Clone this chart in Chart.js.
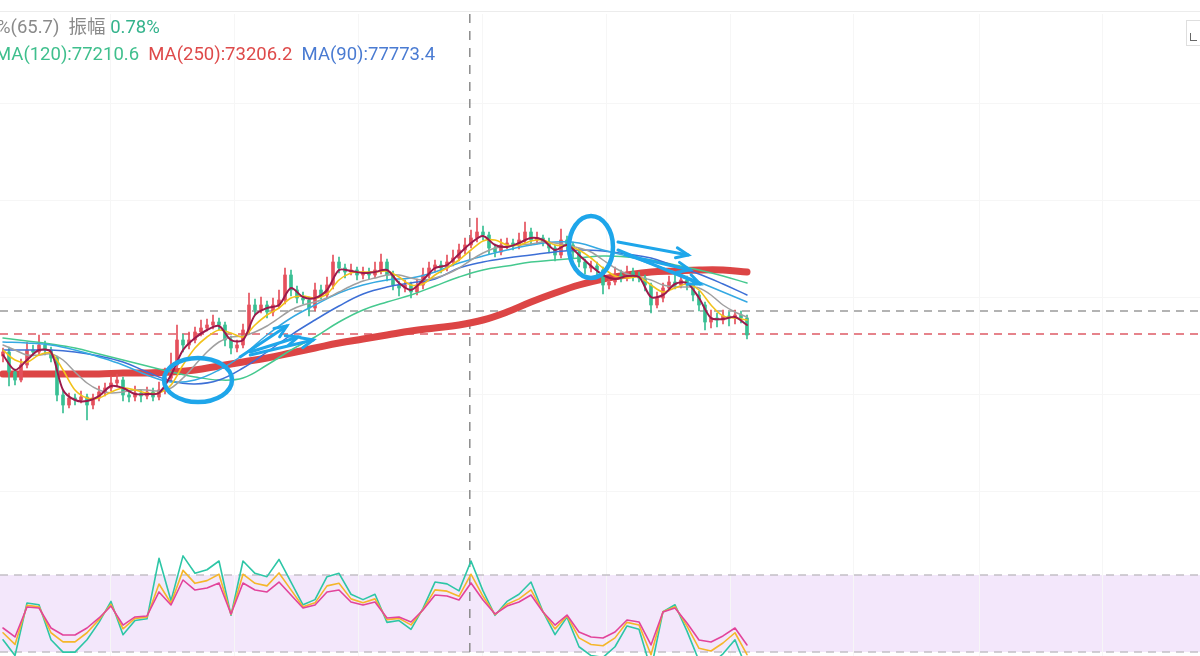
<!DOCTYPE html>
<html><head><meta charset="utf-8">
<script src="https://cdn.jsdelivr.net/npm/chart.js@4/dist/chart.umd.min.js"></script>
<style>
html,body{margin:0;padding:0;background:#fff;overflow:hidden}
#wrap{position:relative;width:1200px;height:656px;overflow:hidden;background:#fff}
canvas{position:absolute;left:0;top:0}
.hdr{position:absolute;font-family:Roboto,"Noto Sans CJK SC",sans-serif;font-size:18.5px;white-space:nowrap;line-height:1}
#topline{position:absolute;left:0;top:11px;width:1200px;height:1px;background:#ececec}
#icon{position:absolute;left:1186px;top:20px;width:16px;height:26px;border:1px solid #dedede;box-sizing:border-box;background:#fff}
#icon i{position:absolute;left:3px;top:12px;width:6px;height:7px;border-left:1.5px solid #666;border-bottom:1.5px solid #666}
</style></head><body>
<div id="wrap">
<canvas id="c" width="1200" height="656"></canvas>
<div id="topline"></div>
<div class="hdr" style="left:-3px;top:18px;color:#8a8a8a">%(65.7)&nbsp;&nbsp;振幅 <span style="color:#34b38c">0.78%</span></div>
<div class="hdr" style="left:-5px;top:45px"><span style="color:#3fbf8d">MA(120):77210.6</span>&nbsp; <span style="color:#de4a4a">MA(250):73206.2</span>&nbsp; <span style="color:#4a7bd2">MA(90):77773.4</span></div>
<div id="icon"><i></i></div>
</div>
<script>
// ---- data (prices) ----
const candleOpen = [70800,71100,69600,69000,70125,71250,71100,71625,71250,70650,
67875,67125,67650,67500,67725,67125,67650,68100,68400,68775,
69000,67875,67725,68025,67800,68100,67725,68250,69150,70125,
72000,71625,72000,72600,72900,73125,73350,73125,72000,71400,
71625,72750,74625,74250,74625,74100,74625,75000,76875,75750,
75150,75000,74400,75750,75375,76125,77850,77400,77100,77250,
76875,77100,76875,77250,77850,76875,76125,75900,76125,75600,
76125,76875,77400,77625,77400,77850,78150,78750,79125,79650,
80100,79875,78900,78600,79125,79275,79050,79500,80100,79500,
79650,79350,78900,78375,79500,79125,78600,77850,77400,77550,
77250,76125,76350,76875,76650,77100,76800,76650,76125,74625,
75150,75900,76350,76125,76500,76125,75375,74625,73350,73650,
73500,73800,73650,73875,73650];
const candleClose = [71100,69600,69000,70125,71250,71100,71625,71250,70650,67875,
67125,67650,67500,67725,67125,67650,68100,68400,68775,69000,
67875,67725,68025,67800,68100,67725,68250,69150,70125,72000,
71625,72000,72600,72900,73125,73350,73125,72000,71400,71625,
72750,74625,74250,74625,74100,74625,75000,76875,75750,75150,
75000,74400,75750,75375,76125,77850,77400,77100,77250,76875,
77100,76875,77250,77850,76875,76125,75900,76125,75600,76125,
76875,77400,77625,77400,77850,78150,78750,79125,79650,80100,
79875,78900,78600,79125,79275,79050,79500,80100,79500,79650,
79350,78900,78375,79500,79125,78600,77850,77400,77550,77250,
76125,76350,76875,76650,77100,76800,76650,76125,74625,75150,
75900,76350,76125,76500,76125,75375,74625,73350,73650,73500,
73800,73650,73875,73650,72375];
const candleHigh = [71400,71475,69825,70575,71850,71625,72375,71925,71475,70800,
68175,68025,67950,68175,67950,67950,68550,68775,69300,69450,
69225,68175,68550,68250,68475,68400,68850,69900,71025,73125,
72450,72600,72975,73500,73575,73875,73650,73350,72300,72000,
73200,75525,75075,75225,74925,75150,75750,77400,77250,76050,
75600,75225,76275,76125,76725,78375,78225,77700,77700,77475,
77475,77400,77850,78450,78075,77175,76425,76500,76350,76575,
77400,77850,78000,77925,78375,78750,79200,79650,80250,81150,
80550,80100,79200,79575,79650,79575,80025,80850,80400,80100,
79875,79650,79125,80325,79800,79350,78900,78075,77925,77850,
77475,76800,77475,77250,77550,77400,77100,76875,76275,75600,
76275,76800,76950,76950,76800,76350,75675,74850,74250,74025,
74250,74100,74250,74175,73875];
const candleLow = [70350,68550,68625,68850,69900,70800,70875,70875,70350,67425,
66525,66900,67125,67275,66000,66825,67425,67800,68175,68475,
67425,67350,67425,67350,67575,67425,67500,67950,68925,69825,
71100,71325,71775,72300,72675,72825,72750,71550,70950,71100,
71400,72450,73875,74025,73650,73800,74400,74700,75300,74775,
74700,73800,74175,75075,75150,75825,77025,76650,76875,76500,
76575,76575,76650,76950,76425,75750,75300,75600,75150,75375,
75825,76650,77100,77025,77175,77550,77925,78450,78900,79350,
79500,78450,78225,78375,78825,78750,78825,79275,79125,79200,
79050,78525,77925,78150,78750,78150,77475,76950,77100,76650,
75450,75825,76125,76350,76425,76425,76350,75675,74025,74400,
74850,75675,75825,75900,75750,74925,74175,72750,72900,72975,
73200,73050,73200,73275,72075];

// short MAs, sampled every 2nd bar
const ma5 = [70875,69750,70500,71250,71100,68250,67500,67425,67800,68550,
68400,67950,67950,68025,69375,71250,72150,72750,73050,72000,
72000,73875,74400,74625,75900,75225,75150,75750,77250,77175,
77025,77100,77250,76275,75750,76500,77400,77625,78450,79275,
79800,79125,78975,79275,79650,79500,78750,79125,78375,77550,
76875,76575,76800,76725,75225,75375,76200,76275,75150,73650,
73575,73725,73125];
const ma10 = [71250,70500,70350,70875,71025,69750,68250,67650,67650,68100,
68400,68250,68025,68025,68625,70125,71400,72225,72750,72525,
72225,73125,73875,74400,75150,75300,75150,75450,76500,77025,
77100,77100,77175,76725,76125,76200,76875,77400,78000,78750,
79425,79500,79125,79125,79425,79500,79125,79050,78750,78150,
77400,76800,76650,76725,76125,75600,75900,76200,75750,74625,
73800,73650,73500];
const ma20 = [71625,71250,70875,70875,70950,70500,69600,68775,68250,68025,
68100,68250,68250,68175,68400,69150,70125,71100,71850,72225,
72300,72600,73050,73650,74250,74625,74850,75150,75600,76050,
76425,76650,76875,76875,76650,76500,76650,76950,77400,78000,
78525,78900,79050,79125,79200,79350,79275,79125,78900,78600,
78000,77400,76950,76725,76500,76125,75975,75975,75900,75375,
74625,74100,73725];
// long MAs, sampled every 4th bar
const ma60 = [71850,71775,71625,71250,70725,70125,69375,68850,69000,69750,
70875,72375,73650,74625,75525,76125,76500,76650,77100,77775,
78300,78750,79125,79350,79275,78750,78300,77700,77100,76350,
75600,74850];
const ma90 = [71250,71250,71250,71100,70800,70350,69600,68925,68700,69000,
69900,71100,72375,73500,74550,75450,75975,76275,76575,77400,
77850,78150,78375,78600,78750,78675,78450,78150,77550,76950,
76200,75375];
const ma120 = [72150,71925,71700,71400,70950,70500,70050,69600,69225,69000,
69150,70125,71250,72225,73350,74250,74850,75375,76050,76725,
77250,77550,77850,78000,78150,78300,78225,78000,77625,77250,
76800,76275];
const ma250 = [69450,69450,69450,69450,69450,69525,69525,69600,69750,70050,
70350,70650,71025,71400,71775,72075,72375,72675,72900,73125,
73500,74100,74850,75525,76125,76575,76875,77100,77175,77250,
77250,77100];
// RSI (6 / 12 / 24), sampled every 2nd bar
const rsi6 = [29.5,17.2,58.2,56.8,29.5,19.9,19.9,29.5,43.1,59.4,
33.5,44.5,45.9,93.0,60.0,94.9,81.3,84.1,90.9,48.6,
90.9,81.3,78.7,92.1,74.5,56.8,60.8,78.7,81.3,65.0,
60.8,65.0,43.1,44.5,37.7,54.0,74.5,73.1,67.6,90.9,
67.6,48.6,59.4,65.0,74.5,51.4,33.5,47.2,24.1,17.2,
15.8,24.1,40.3,37.7,6.4,51.4,56.8,36.3,13.2,10.4,
18.6,29.5,6.4];
const rsi12 = [35.0,25.9,56.3,55.3,35.0,27.9,27.9,35.0,45.2,57.2,
38.0,46.2,47.2,73.0,58.0,83.6,73.5,75.6,80.6,49.2,
80.6,73.5,71.5,81.6,68.4,55.3,58.3,71.5,73.5,61.4,
58.3,61.4,45.2,46.2,41.1,53.2,68.4,67.4,63.4,80.6,
63.4,49.2,57.2,61.4,68.4,51.3,38.0,48.1,31.0,25.9,
24.9,31.0,43.1,41.1,17.9,51.3,55.3,40.1,22.9,20.8,
27.0,35.0,17.9];
const rsi24 = [38.7,31.7,55.1,54.3,38.7,33.2,33.2,38.7,46.5,55.8,
41.0,47.3,48.1,66.8,56.6,76.1,68.3,69.9,73.8,49.6,
73.8,68.3,66.8,74.5,64.4,54.3,56.6,66.8,68.3,59.0,
56.6,59.0,46.5,47.3,43.4,52.7,64.4,63.6,60.5,73.8,
60.5,49.6,55.8,59.0,64.4,51.2,41.0,48.8,35.6,31.7,
30.9,35.6,44.9,43.4,25.5,51.2,54.3,42.6,29.4,27.8,
32.5,38.7,25.5];
const rsiBands = [80, 20];
const priceLines = [74175, 72450];  // gray, red dashed levels
const crossBar = 77.8;
const gridBars = [17.8, 38.5, 59.2, 79.8, 100.5, 121.2, 141.7, 162.7, 183.2];
const gridPrices = [89775, 82500, 75225, 67950, 60675];

// hand-drawn marks (bar index, price)
const circles = [{x:32.5, y:69000, rx:34, ry:22}, {x:98, y:78975, rx:22, ry:31}];
const arrows = [
  [39.5,70725,47.3,73050],[41.2,71100,49.2,72225],[41.2,70875,51.7,72000],
  [102.5,79350,114.2,78375],[102.5,78750,116.2,76200],[103.7,78375,114.5,77250]
];

// ---- build ----
const bars = candleClose.map((_, i) => i);
const UP = '#e5505c', DOWN = '#38bf93';
const cColors = bars.map(i => candleClose[i] >= candleOpen[i] ? UP : DOWN);
const pts = (arr, step) => arr.map((v, k) => ({x: k * step, y: v}));

const lineDs = (label, arr, step, color, width, axis, tension, order) => ({
  type: 'line', label, data: pts(arr, step), borderColor: color, borderWidth: width,
  pointRadius: 0, tension, yAxisID: axis, order, fill: false, borderJoinStyle: 'round', borderCapStyle: 'round'
});

const bgPlugin = {
  id: 'bg',
  beforeDatasetsDraw(chart) {
    const {ctx, scales: {x, y, y2}} = chart;
    ctx.save();
    const t = y2.getPixelForValue(rsiBands[0]), b = y2.getPixelForValue(rsiBands[1]);
    ctx.fillStyle = '#f3e7fb';
    ctx.fillRect(0, t, 1200, b - t);
    ctx.strokeStyle = '#f6f6f6'; ctx.lineWidth = 1;
    gridBars.forEach(v => { const px = Math.round(x.getPixelForValue(v)) + 0.5; ctx.beginPath(); ctx.moveTo(px, 14); ctx.lineTo(px, 656); ctx.stroke(); });
    gridPrices.forEach(v => { const py = Math.round(y.getPixelForValue(v)) + 0.5; ctx.beginPath(); ctx.moveTo(0, py); ctx.lineTo(1200, py); ctx.stroke(); });
    ctx.setLineDash([8, 6]); ctx.lineWidth = 1.5; ctx.strokeStyle = '#c4c0c6';
    [t, b].forEach(py => { ctx.beginPath(); ctx.moveTo(0, py); ctx.lineTo(1200, py); ctx.stroke(); });
    ctx.strokeStyle = '#9a9a9a';
    let py = y.getPixelForValue(priceLines[0]);
    ctx.beginPath(); ctx.moveTo(0, py); ctx.lineTo(1200, py); ctx.stroke();
    ctx.strokeStyle = '#de5b66';
    py = y.getPixelForValue(priceLines[1]);
    ctx.beginPath(); ctx.moveTo(0, py); ctx.lineTo(1200, py); ctx.stroke();
    ctx.strokeStyle = '#8c8c8c'; ctx.setLineDash([9, 8]); ctx.lineWidth = 1.5;
    const cx = x.getPixelForValue(crossBar);
    ctx.beginPath(); ctx.moveTo(cx, 14); ctx.lineTo(cx, 656); ctx.stroke();
    ctx.restore();
  }
};

const drawPlugin = {
  id: 'marks',
  afterDatasetsDraw(chart) {
    const {ctx, scales: {x, y}} = chart;
    ctx.save();
    ctx.strokeStyle = '#1ea6ea'; ctx.lineWidth = 4.5;
    circles.forEach(c => {
      ctx.beginPath();
      ctx.ellipse(x.getPixelForValue(c.x), y.getPixelForValue(c.y), c.rx, c.ry, 0, 0, Math.PI * 2);
      ctx.stroke();
    });
    ctx.lineWidth = 3; ctx.lineCap = 'round';
    arrows.forEach(a => {
      const x1 = x.getPixelForValue(a[0]), y1 = y.getPixelForValue(a[1]);
      const x2 = x.getPixelForValue(a[2]), y2p = y.getPixelForValue(a[3]);
      const ang = Math.atan2(y2p - y1, x2 - x1);
      ctx.beginPath(); ctx.moveTo(x1, y1); ctx.lineTo(x2, y2p); ctx.stroke();
      ctx.beginPath();
      ctx.moveTo(x2 - 13 * Math.cos(ang - 0.4), y2p - 13 * Math.sin(ang - 0.4));
      ctx.lineTo(x2, y2p);
      ctx.lineTo(x2 - 13 * Math.cos(ang + 0.4), y2p - 13 * Math.sin(ang + 0.4));
      ctx.stroke();
    });
    ctx.restore();
  }
};

new Chart(document.getElementById('c'), {
  type: 'bar',
  data: {
    datasets: [
      lineDs('RSI24', rsi24, 2, '#e2449b', 1.6, 'y2', 0, 12),
      lineDs('RSI12', rsi12, 2, '#f5b62a', 1.6, 'y2', 0, 13),
      lineDs('RSI6', rsi6, 2, '#2dc6a6', 1.6, 'y2', 0, 14),
      lineDs('MA250', ma250, 4, '#dc4545', 7, 'y', 0.4, 11),
      {
        type: 'bar', label: 'wick', data: bars.map(i => ({x: i, y: [candleLow[i], candleHigh[i]]})),
        backgroundColor: cColors, barThickness: 1, grouped: false, yAxisID: 'y', order: 10
      },
      {
        type: 'bar', label: 'body', data: bars.map(i => ({x: i, y: [candleOpen[i], candleClose[i]]})),
        backgroundColor: cColors, barThickness: 3, minBarLength: 2, grouped: false, yAxisID: 'y', order: 9
      },
      lineDs('MA120', ma120, 4, '#45c98f', 1.5, 'y', 0.4, 8),
      lineDs('MA90', ma90, 4, '#3d6fd6', 1.5, 'y', 0.4, 7),
      lineDs('MA60', ma60, 4, '#35a9e2', 1.5, 'y', 0.4, 6),
      lineDs('MA20', ma20, 2, '#a0a0a0', 1.5, 'y', 0.3, 5),
      lineDs('MA10', ma10, 2, '#f2c21b', 1.6, 'y', 0.3, 4),
      lineDs('MA5', ma5, 2, '#9c1a4b', 2, 'y', 0.3, 3)
    ]
  },
  options: {
    responsive: false, animation: false, events: [],
    layout: {padding: 0},
    plugins: {legend: {display: false}, tooltip: {enabled: false}},
    scales: {
      x: {type: 'linear', min: -0.5, max: 199.5, display: false, offset: false},
      y: {type: 'linear', min: 48300, max: 97500, display: false},
      y2: {type: 'linear', min: 16.88, max: 528.05, display: false}
    }
  },
  plugins: [bgPlugin, drawPlugin]
});
</script>
</body></html>
